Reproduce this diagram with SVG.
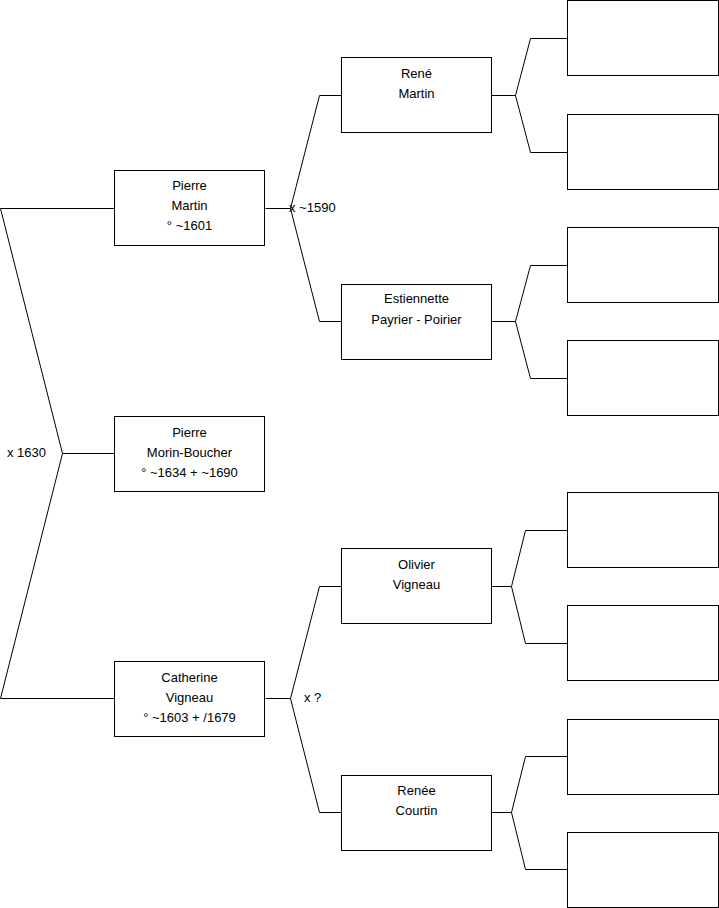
<svg xmlns="http://www.w3.org/2000/svg" width="719" height="908" viewBox="0 0 719 908">
<style>
.box{fill:#fff;stroke:#000;stroke-width:1}
.t{font-family:"Liberation Sans",Arial,sans-serif;font-size:13px;fill:#000;text-anchor:middle}
.l{font-family:"Liberation Sans",Arial,sans-serif;font-size:13px;fill:#000}
.c{fill:none;stroke:#000;stroke-width:1}
</style>
<rect width="719" height="908" fill="#fff"/>
<g id="connectors">
<path class="c" d="M114.5,208.5H0.5L62.5,453.5L0.5,698.5H114.5M62.5,453.5H114.5"/>
<path class="c" d="M265.5,208.5H290.5M341.5,95.5H319.5L290.5,208.5L319.5,321.5H341.5"/>
<path class="c" d="M265.5,698.5H290.5M341.5,586.5H319.5L290.5,698.5L319.5,812.5H341.5"/>
<path class="c" d="M491.5,95.5H515.5M567.5,38.5H530.5L515.5,95.5L530.5,152.5H567.5"/>
<path class="c" d="M491.5,321.5H515.5M567.5,265.5H530.5L515.5,321.5L530.5,378.5H567.5"/>
<path class="c" d="M491.5,586.5H511.5M567.5,530.5H525.5L511.5,586.5L525.5,643.5H567.5"/>
<path class="c" d="M491.5,812.5H511.5M567.5,756.5H525.5L511.5,812.5L525.5,869.5H567.5"/>
<text class="l" x="289" y="212">x ~1590</text>
<text class="l" x="7" y="457">x 1630</text>
<text class="l" x="304" y="702">x ?</text>
</g>
<g id="pierre-martin"><rect class="box" x="114.5" y="170.5" width="150" height="75"/><text class="t" x="189.5" y="190">Pierre</text><text class="t" x="189.5" y="210">Martin</text><text class="t" x="189.5" y="230">° ~1601</text></g>
<g id="pierre-morin"><rect class="box" x="114.5" y="416.5" width="150" height="75"/><text class="t" x="189.5" y="437">Pierre</text><text class="t" x="189.5" y="457">Morin-Boucher</text><text class="t" x="189.5" y="477">° ~1634 + ~1690</text></g>
<g id="catherine-vigneau"><rect class="box" x="114.5" y="661.5" width="150" height="75"/><text class="t" x="189.5" y="682">Catherine</text><text class="t" x="189.5" y="702">Vigneau</text><text class="t" x="189.5" y="722">° ~1603 + /1679</text></g>
<g id="rene-martin"><rect class="box" x="341.5" y="57.5" width="150" height="75"/><text class="t" x="416.5" y="78">René</text><text class="t" x="416.5" y="98">Martin</text></g>
<g id="estiennette"><rect class="box" x="341.5" y="284.5" width="150" height="75"/><text class="t" x="416.5" y="303">Estiennette</text><text class="t" x="416.5" y="324">Payrier - Poirier</text></g>
<g id="olivier-vigneau"><rect class="box" x="341.5" y="548.5" width="150" height="75"/><text class="t" x="416.5" y="569">Olivier</text><text class="t" x="416.5" y="589">Vigneau</text></g>
<g id="renee-courtin"><rect class="box" x="341.5" y="775.5" width="150" height="75"/><text class="t" x="416.5" y="795">Renée</text><text class="t" x="416.5" y="815">Courtin</text></g>
<g id="gg1"><rect class="box" x="567.5" y="0.5" width="151" height="75"/></g>
<g id="gg2"><rect class="box" x="567.5" y="114.5" width="151" height="75"/></g>
<g id="gg3"><rect class="box" x="567.5" y="227.5" width="151" height="75"/></g>
<g id="gg4"><rect class="box" x="567.5" y="340.5" width="151" height="75"/></g>
<g id="gg5"><rect class="box" x="567.5" y="492.5" width="151" height="75"/></g>
<g id="gg6"><rect class="box" x="567.5" y="605.5" width="151" height="75"/></g>
<g id="gg7"><rect class="box" x="567.5" y="719.5" width="151" height="75"/></g>
<g id="gg8"><rect class="box" x="567.5" y="832.5" width="151" height="75"/></g>
</svg>
